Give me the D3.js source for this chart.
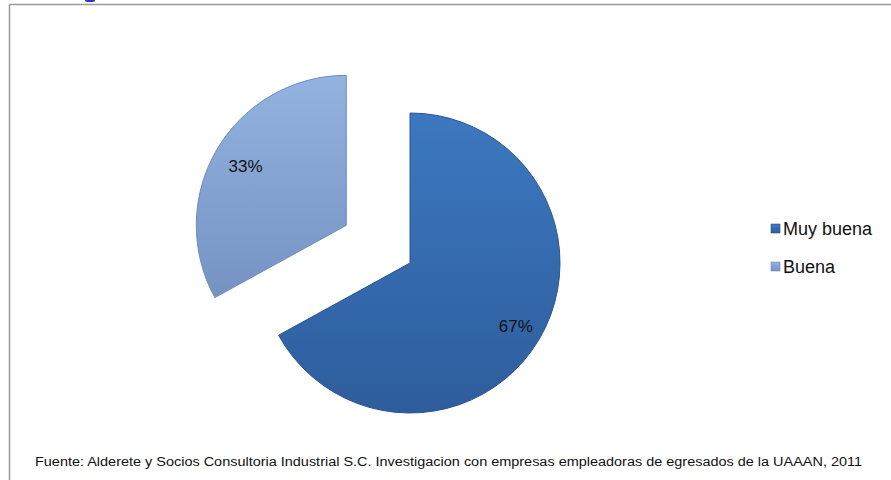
<!DOCTYPE html>
<html><head><meta charset="utf-8">
<script src="https://cdn.jsdelivr.net/npm/d3@7"></script>
<style>body{margin:0;background:#fff;}svg{display:block;}</style>
</head><body>
<script>
const categories = ["Muy buena", "Buena"];
const values = [67, 33];
const labels = ["67%", "33%"];
const sourceText = "Fuente: Alderete y Socios Consultoria Industrial S.C. Investigacion con empresas empleadoras de  egresados de la UAAAN, 2011";

const W = 891, H = 480;
const svg = d3.select("body").append("svg").attr("width", W).attr("height", H);
const defs = svg.append("defs");

const grads = [
  {id: "g0", top: "#3c78c0", bottom: "#2e5d9c"},
  {id: "g1", top: "#93b3e0", bottom: "#7592c3"}
];
grads.forEach(g => {
  const lg = defs.append("linearGradient").attr("id", g.id).attr("x1", 0).attr("y1", 0).attr("x2", 0).attr("y2", 1);
  lg.append("stop").attr("offset", "0%").attr("stop-color", g.top);
  lg.append("stop").attr("offset", "100%").attr("stop-color", g.bottom);
});
const strokes = ["#2a5690", "#6e8cbb"];

// frame
svg.append("line").attr("x1", 9.5).attr("y1", 4.5).attr("x2", W).attr("y2", 4.5).attr("stroke", "#9a9a9a").attr("stroke-width", 1.5);
svg.append("line").attr("x1", 9.5).attr("y1", 4.5).attr("x2", 9.5).attr("y2", H).attr("stroke", "#9a9a9a").attr("stroke-width", 1.5);
// cut-off title descender (only its tip is visible)
svg.append("ellipse").attr("cx", 90).attr("cy", 0.5).attr("rx", 5).attr("ry", 1.6).attr("fill", "#3333cc");

const cx = 410, cy = 263, r = 150, explode = [0, 74];
const pie = d3.pie().sort(null).value(d => d)(values);
const arc = d3.arc().innerRadius(0).outerRadius(r);

const g = svg.append("g").attr("transform", `translate(${cx},${cy})`);
const labelR = [0.82, 0.78];
pie.forEach((p, i) => {
  const mid = (p.startAngle + p.endAngle) / 2;
  const dx = Math.sin(mid) * explode[i], dy = -Math.cos(mid) * explode[i];
  const sg = g.append("g").attr("transform", `translate(${dx},${dy})`);
  sg.append("path").attr("d", arc(p)).attr("fill", `url(#g${i})`).attr("stroke", strokes[i]).attr("stroke-width", 1);
  const lr = r * labelR[i];
  sg.append("text").attr("x", Math.sin(mid) * lr).attr("y", -Math.cos(mid) * lr).attr("dy", "0.35em").attr("text-anchor", "middle")
    .attr("font-family", "Liberation Sans, Arial").attr("font-size", 17).attr("fill", "#111").text(labels[i]);
});

// legend
const lg = svg.append("g").attr("transform", "translate(771,224)");
categories.forEach((c, i) => {
  const row = lg.append("g").attr("transform", `translate(0,${i * 38})`);
  row.append("rect").attr("width", 9).attr("height", 9).attr("fill", `url(#g${i})`).attr("stroke", strokes[i]).attr("stroke-width", 0.6);
  row.append("text").attr("x", 12).attr("y", 5).attr("dy", "0.35em").attr("font-family", "Liberation Sans, Arial").attr("font-size", 18).attr("fill", "#111").text(c);
});

svg.append("text").attr("x", 35).attr("y", 466).attr("font-family", "Liberation Sans, Arial").attr("font-size", 12).attr("fill", "#111")
  .attr("textLength", 827).attr("lengthAdjust", "spacingAndGlyphs").text(sourceText);
</script>
</body></html>
